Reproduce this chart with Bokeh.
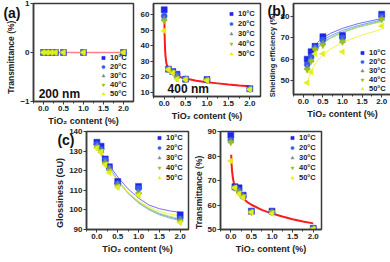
from bokeh.plotting import figure
from bokeh.layouts import row, column, Spacer
from bokeh.models import Range1d, FixedTicker, NumeralTickFormatter, Legend, LegendItem, LinearAxis
from bokeh.core.properties import value
from bokeh.embed import file_html
from bokeh.resources import INLINE

FONT = "Liberation Sans"
NB = "\u00a0"
temps = ["10°C", "20°C", "30°C", "40°C", "50°C"]
markers = ["square", "circle", "triangle", "inverted_triangle", "triangle"]
angles = [0, 0, 0, 0, 1.5708]
mcolors = ["#1f24e6", "#2f5bf0", "#7f8a8a", "#99c21a", "#e4ee1a"]
fcolors = ["#7c6cf2", "#6fa6f2", "#8fbcbc", "#a8dc6a", "#f2f250"]

# (a) 200 nm
x_a = [0.0, 0.1, 0.2, 0.3, 0.5, 1.0, 2.0]
t200 = [[0, 0, 0, 0, 0, 0, 0],
        [0, 0, 0, 0, 0, 0, 0],
        [0, 0, 0, 0, 0, 0, 0],
        [0, 0, 0, 0, 0, 0, 0],
        [0, 0, 0, 0, 0, 0, 0]]
fit200_x = [0.0, 2.0]
fit200_y = [0.0, 0.0]

# (a) 400 nm
t400 = [[63.0, 25.0, 23.5, 21.7, 18.6, 18.3, 12.5],
        [59.0, 25.0, 23.2, 21.4, 18.5, 18.1, 12.3],
        [57.0, 24.8, 23.0, 20.2, 18.5, 18.0, 12.2],
        [56.0, 24.8, 22.8, 19.0, 18.4, 17.9, 12.0],
        [49.5, 24.7, 22.5, 18.5, 18.3, 17.8, 12.0]]
fit400_x = [0.005, 0.01, 0.02, 0.03, 0.05, 0.075, 0.1, 0.15, 0.2, 0.3, 0.4, 0.5, 0.75, 1.0, 1.25, 1.5, 1.75, 2.0]
fit400_y = [57.0, 47.0, 38.0, 33.5, 29.0, 26.5, 25.0, 23.3, 22.2, 20.7, 19.7, 19.0, 17.6, 16.6, 15.9, 15.2, 14.6, 14.1]

# (b) shielding efficiency
x_b = [0.1, 0.2, 0.3, 0.5, 1.0, 2.0]
shield = [[60.0, 63.5, 66.0, 70.5, 71.0, 81.0],
          [57.5, 61.0, 65.5, 69.0, 70.0, 80.0],
          [56.0, 59.5, 65.0, 67.5, 68.5, 79.0],
          [55.0, 59.0, 64.5, 66.5, 68.0, 78.5],
          [49.0, 54.0, 62.5, 62.5, 63.5, 75.5]]
fitb_x = [0.1, 0.15, 0.2, 0.3, 0.4, 0.5, 0.7, 1.0, 1.4, 2.0]
fitb_y = [[59.5, 62.2, 64.0, 66.6, 68.4, 69.9, 72.1, 74.4, 76.6, 79.0],
          [58.0, 60.8, 62.7, 65.4, 67.3, 68.8, 71.0, 73.4, 75.7, 78.3],
          [56.5, 59.4, 61.4, 64.3, 66.3, 67.8, 70.2, 72.7, 75.1, 77.8],
          [55.5, 58.5, 60.6, 63.6, 65.7, 67.3, 69.8, 72.4, 74.9, 77.6],
          [48.5, 51.9, 54.3, 57.7, 60.1, 61.9, 64.8, 67.8, 70.7, 74.0]]

# (c) glossiness
gloss = [[134.5, 132.5, 126.0, 122.0, 114.5, 112.0, 97.5],
         [133.5, 131.0, 125.5, 121.5, 113.5, 111.0, 95.5],
         [132.5, 130.0, 124.5, 121.0, 113.0, 109.0, 95.0],
         [132.0, 130.0, 123.5, 120.0, 112.0, 108.0, 94.0],
         [131.5, 129.5, 123.0, 119.0, 111.5, 107.5, 93.5]]
fitc_x = [0.0, 0.1, 0.2, 0.3, 0.5, 0.75, 1.0, 1.25, 1.5, 1.75, 2.0]
fitc_y = [[133.5, 129.6, 126.0, 122.7, 116.8, 110.7, 106.0, 102.5, 100.6, 99.5, 98.7],
          [133.0, 128.9, 125.0, 121.5, 115.3, 108.8, 104.0, 100.5, 98.0, 96.3, 95.0],
          [132.5, 128.4, 124.5, 121.0, 114.8, 108.3, 103.5, 100.0, 97.5, 95.8, 94.5],
          [132.0, 128.0, 124.3, 120.8, 114.8, 108.5, 104.0, 100.7, 98.3, 96.7, 95.5],
          [131.5, 127.7, 124.1, 120.8, 115.0, 109.0, 104.7, 101.5, 99.3, 97.9, 97.0]]

# (d) transmittance (visible)
trans = [[88.5, 67.5, 67.0, 64.0, 57.5, 57.5, 50.5],
         [86.5, 67.0, 66.0, 63.5, 57.5, 57.0, 50.5],
         [86.0, 67.0, 65.5, 63.5, 57.0, 57.0, 50.3],
         [85.5, 67.0, 65.0, 63.5, 57.0, 57.0, 50.3],
         [78.0, 67.0, 64.5, 63.0, 57.0, 56.5, 50.2]]
fitd_x = [0.01, 0.02, 0.03, 0.05, 0.075, 0.1, 0.15, 0.2, 0.3, 0.4, 0.5, 0.75, 1.0, 1.25, 1.5, 1.75, 2.0]
fitd_y = [80.5, 76.5, 74.0, 71.0, 69.0, 67.5, 65.8, 64.5, 62.6, 61.2, 60.1, 58.0, 56.5, 55.3, 54.2, 53.3, 52.5]

x_ticks = [0.0, 0.5, 1.0, 1.5, 2.0]


def make_fig(fw, fh, bl, br, bt, bb, xr, yr, yticks, ylabel, ysize="9px"):
    p = figure(frame_width=fw, frame_height=fh, min_border_left=bl, min_border_right=br,
               min_border_top=bt, min_border_bottom=bb, x_range=Range1d(*xr), y_range=Range1d(*yr),
               output_backend="svg", toolbar_location=None, title=None)
    p.grid.visible = False
    p.background_fill_color = "white"
    p.border_fill_color = "white"
    p.outline_line_color = "#3a3a3a"
    p.outline_line_width = 1.5
    p.xaxis.ticker = FixedTicker(ticks=x_ticks, minor_ticks=[0.25, 0.75, 1.25, 1.75, -0.25])
    p.xaxis.formatter = NumeralTickFormatter(format="0.0")
    p.yaxis.ticker = FixedTicker(ticks=yticks)
    p.xaxis.axis_label = "TiO₂ content (%)"
    if ylabel:
        p.yaxis.axis_label = ylabel
    for ax in p.axis:
        ax.axis_line_color = "#3a3a3a"
        ax.axis_line_width = 1.5
        ax.major_tick_line_color = "#3a3a3a"
        ax.minor_tick_line_color = "#3a3a3a"
        ax.major_tick_out = 3
        ax.major_tick_in = 0
        ax.minor_tick_out = 2
        ax.minor_tick_in = 0
        ax.major_label_text_font = FONT
        ax.major_label_text_font_style = "bold"
        ax.major_label_text_font_size = "8px"
        ax.major_label_text_color = "#222222"
        ax.major_label_standoff = 1
        ax.axis_label_text_font = FONT
        ax.axis_label_text_font_style = "bold"
        ax.axis_label_text_font_size = "9px"
        ax.axis_label_text_color = "#222222"
        ax.axis_label_standoff = 2
    p.yaxis.axis_label_text_font_size = ysize
    p.yaxis.axis_label_standoff = 1
    return p


def add_markers(p, xs, series):
    rs = []
    for i in range(5):
        r = p.scatter(xs, series[i], marker=markers[i], size=6, angle=angles[i],
                      fill_color=mcolors[i], line_color=mcolors[i], line_width=0.5)
        rs.append(r)
    return rs


def add_legend(p, rs, loc, spacing):
    items = [LegendItem(label=temps[i], renderers=[rs[i]]) for i in range(5)]
    leg = Legend(items=items, location=loc, label_text_font=FONT, label_text_font_style="bold",
                 label_text_font_size="7.5px", label_text_color="#222222", glyph_width=8, glyph_height=9,
                 label_height=9, spacing=spacing, padding=0, margin=0, label_standoff=3,
                 background_fill_alpha=0, border_line_alpha=0)
    p.add_layout(leg)


def add_glyph_text(p, x, y, txt, size):
    p.text(x=[x], y=[y], text=[txt], text_font=value(FONT), text_font_style="bold",
           text_font_size=value(size), text_color="#111111", text_baseline="bottom", text_align="left")


def add_panel_label(p, yval, txt, standoff):
    # a bare extra axis on the left whose single tick label is the panel tag
    ax = LinearAxis(ticker=FixedTicker(ticks=[yval], minor_ticks=[]), major_label_overrides={yval: txt},
                    axis_line_color=None, major_tick_line_color=None, minor_tick_line_color=None,
                    major_tick_out=0, major_tick_in=0, minor_tick_out=0, minor_tick_in=0,
                    major_label_standoff=standoff, major_label_text_font=FONT,
                    major_label_text_font_style="bold", major_label_text_font_size="14px",
                    major_label_text_color="#111111")
    p.add_layout(ax, "left")


# panel a left
pa1 = make_fig(100, 98, 22, 4, 2, 22, (-0.25, 2.25), (-1, 1), [-1, 0, 1],
               "Transmittance (%)" + NB * 4, "8.5px")
pa1.line(fit200_x, fit200_y, line_color="#ff7f86", line_width=1.5)
r = add_markers(pa1, x_a, t200)
add_legend(pa1, r, (66, 3), 0)
add_glyph_text(pa1, -0.12, -0.99, "200 nm", "12px")
add_panel_label(pa1, 0.8, "(a)", -17)

# panel a right
pa2 = make_fig(107, 93, 12, 4, 2, 27, (-0.25, 2.25), (7.5, 67), [10, 20, 30, 40, 50, 60], None)
pa2.line(fit400_x, fit400_y, line_color="#ff1a1a", line_width=2)
r = add_markers(pa2, x_a, t400)
add_legend(pa2, r, (74, 38), 1)
add_glyph_text(pa2, 0.08, 7.8, "400 nm", "12px")

# panel b
pb = make_fig(98, 91, 25, 2, 3, 28, (-0.25, 2.25), (43.5, 86), [50, 60, 70, 80],
              "Shielding efficiency (%)" + NB * 6, "7.5px")
for i in range(5):
    pb.line(fitb_x, fitb_y[i], line_color=fcolors[i], line_width=1)
r = add_markers(pb, x_b, shield)
add_legend(pb, r, (65, 1), 0)
add_panel_label(pb, 82.5, "(b)", -21)

# panel c
pc = make_fig(102, 98, 30, 2, 4, 22, (-0.25, 2.2), (90, 140), [90, 100, 110, 120, 130, 140],
              "Glossiness (GU)" + NB * 10)
for i in range(5):
    pc.line(fitc_x, fitc_y[i], line_color=fcolors[i], line_width=1)
r = add_markers(pc, x_a, gloss)
add_legend(pc, r, (69, 47), 1)
add_panel_label(pc, 135.5, "(c)", -22)

# panel d
pd_ = make_fig(101, 98, 27, 4, 4, 22, (-0.25, 2.2), (50, 90), [50, 60, 70, 80, 90],
               "Transmittance (%)" + NB * 10, "8.5px")
pd_.line(fitd_x, fitd_y, line_color="#ff1a1a", line_width=2)
r = add_markers(pd_, x_a, trans)
add_legend(pd_, r, (68, 47), 1)

layout = column(row(pa1, pa2, pb), row(Spacer(width=52, height=124), pc, pd_))
open("out.html", "w").write(file_html(layout, INLINE))
